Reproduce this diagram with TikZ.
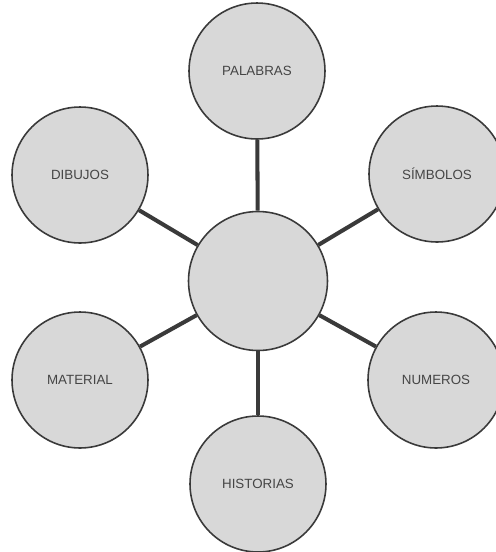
\documentclass[tikz,border=0pt]{standalone}
\usepackage{fontspec}
\setmainfont{Liberation Sans}
\usepackage{tikz}
\definecolor{discfill}{HTML}{D8D8D8}
\definecolor{discline}{HTML}{3A3A3A}
\definecolor{disctext}{HTML}{454545}
\tikzset{
  disc/.style={circle, draw=discline, line width=0.9pt, fill=discfill,
    minimum size=2.72cm, inner sep=0pt, text=disctext, font=\fontsize{7.6}{9}\selectfont},
  spoke/.style={draw=discline, line width=2.3pt}
}

\begin{document}
\begin{tikzpicture}[x=0.02cm, y=-0.02cm]
		%%%%% START %%%%%
		\useasboundingbox[fill=white] (0, 0) rectangle (495, 552);
		
		\node[disc, minimum size=2.78cm] (hub) at (258, 281) {};
		
		\node[disc] (palabras)  at (257, 71)  {PALABRAS};
		\node[disc] (simbolos)  at (437, 174) {SÍMBOLOS};
		\node[disc] (numeros)   at (436, 380) {NUMEROS};
		\node[disc] (historias) at (258, 484) {HISTORIAS};
		\node[disc] (material)  at (80, 380)  {MATERIAL};
		\node[disc] (dibujos)   at (80, 175)  {DIBUJOS};
		
		\foreach \leaf in {palabras, simbolos, numeros, historias, material, dibujos}
			\draw[spoke] (hub) -- (\leaf);
		%%%%% END %%%%%
\end{tikzpicture}
\end{document}
